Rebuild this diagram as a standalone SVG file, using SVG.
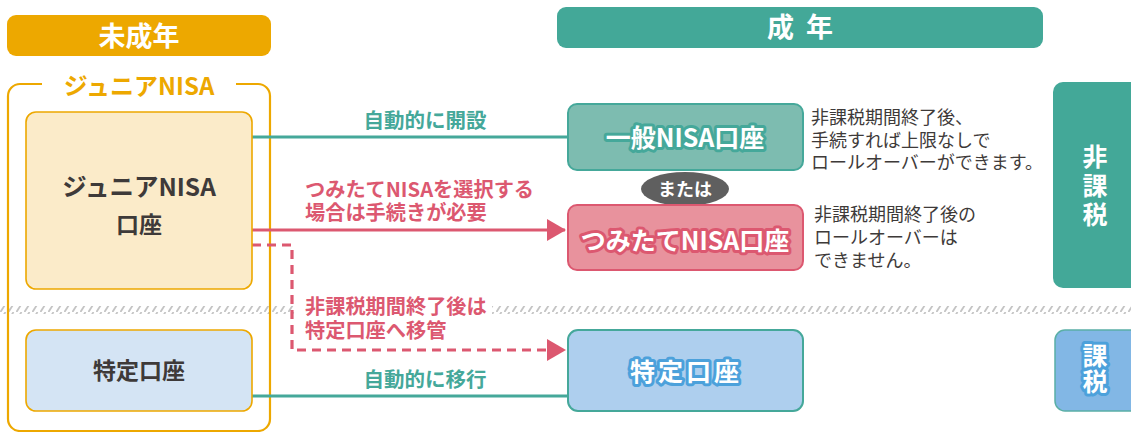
<svg xmlns="http://www.w3.org/2000/svg" width="1131" height="432" viewBox="0 0 1131 432">
<style>
text{font-family:"Noto Sans CJK JP","Noto Sans",sans-serif;font-weight:700}
.hdr{fill:#fff;font-size:27px;text-anchor:middle}
.dark{fill:#3E3A39;text-anchor:middle}
.note{fill:#3E3A39;font-size:18px;font-weight:400}
.teal{fill:#45A89A;font-size:20.5px;text-anchor:middle}
.pink{fill:#DC5870;font-size:20.2px}
.halo{fill:#fff;font-size:25px;text-anchor:middle;stroke-width:6px;stroke-linejoin:round;paint-order:stroke}
.vt{fill:#fff;font-size:25px;text-anchor:middle}
</style>
<defs>
<pattern id="hatch" width="8" height="8" patternUnits="userSpaceOnUse">
<line x1="0.5" y1="8" x2="5.5" y2="0" stroke="#C4C4C4" stroke-width="1.8"/>
</pattern>
<marker id="ap" markerUnits="userSpaceOnUse" markerWidth="20" markerHeight="24" refX="18" refY="12" orient="auto">
<path d="M0 1 L19 12 L0 23 Z" fill="#DC5870"/>
</marker>
</defs>
<rect x="0" y="0" width="1131" height="432" fill="#fff"/>
<rect id="separator" x="0" y="306" width="1131" height="8" fill="url(#hatch)"/>

<g id="hdr-minor"><rect x="7" y="15" width="264" height="41" rx="9" fill="#EDA800"/><text class="hdr" x="139" y="46">未成年</text></g>
<g id="hdr-adult"><rect x="557" y="7" width="486" height="41" rx="9" fill="#43A898"/><text class="hdr" x="806" y="37" font-size="25" letter-spacing="12">成年</text></g>

<g id="junior-frame">
<path d="M42 84 H20 A12 12 0 0 0 8 96 V419 A12 12 0 0 0 20 431 H258 A12 12 0 0 0 270 419 V96 A12 12 0 0 0 258 84 H236" fill="none" stroke="#EDA800" stroke-width="2.2"/>
<text x="139" y="95" fill="#EDA800" font-size="24" text-anchor="middle">ジュニアNISA</text>
</g>

<g id="connectors">
<rect x="296" y="296" width="196" height="50" fill="#fff"/>
<line x1="252" y1="137" x2="568" y2="137" stroke="#45A89A" stroke-width="3.2"/>
<line x1="252" y1="230" x2="565" y2="230" stroke="#DC5870" stroke-width="3.2" marker-end="url(#ap)"/>
<polyline points="252,245 292,245 292,350 565,350" fill="none" stroke="#DC5870" stroke-width="3.2" stroke-dasharray="9 6" marker-end="url(#ap)"/>
<line x1="252" y1="396" x2="568" y2="396" stroke="#45A89A" stroke-width="3.2"/>
<text class="teal" x="425" y="128">自動的に開設</text>
<text class="pink"><tspan x="305" y="197">つみたてNISAを選択する</tspan><tspan x="305" y="220">場合は手続きが必要</tspan></text>
<text class="pink"><tspan x="305" y="314">非課税期間終了後は</tspan><tspan x="305" y="338">特定口座へ移管</tspan></text>
<text class="teal" x="425" y="387">自動的に移行</text>
</g>

<g id="junior-account"><rect x="26" y="112" width="226" height="177" rx="10" fill="#FBEBC9" stroke="#EDA800" stroke-width="1.6"/>
<text class="dark"><tspan x="139" y="196" font-size="24.5">ジュニアNISA</tspan><tspan x="139" y="233" font-size="23">口座</tspan></text></g>

<g id="tokutei-left"><rect x="26" y="330" width="226" height="81" rx="10" fill="#D4E4F4" stroke="#EDA800" stroke-width="1.6"/>
<text class="dark" x="139" y="379" font-size="23">特定口座</text></g>

<g id="ippan"><rect x="568" y="104" width="235" height="66" rx="9" fill="#7DBCB0" stroke="#45A89A" stroke-width="2"/>
<text class="halo" x="685" y="147" stroke="#45A89A" font-size="26">一般NISA口座</text></g>

<g id="mataha"><ellipse cx="685" cy="189" rx="44" ry="17" fill="#5F5F5F"/>
<text x="685" y="196" fill="#fff" font-size="18" font-weight="500" text-anchor="middle">または</text></g>

<g id="tsumitate"><rect x="568" y="205" width="235" height="65" rx="9" fill="#E8929D" stroke="#DC5870" stroke-width="2"/>
<text class="halo" x="685" y="250" stroke="#DC5870">つみたてNISA口座</text></g>

<g id="tokutei-right"><rect x="568" y="330" width="235" height="81" rx="10" fill="#AECFEE" stroke="#45A89A" stroke-width="2"/>
<text class="halo" x="686" y="381" stroke="#4CA1DB" font-size="25" letter-spacing="3">特定口座</text></g>

<g id="note-ippan">
<text class="note"><tspan x="811" y="124">非課税期間終了後、</tspan><tspan x="811" y="147">手続すれば上限なしで</tspan><tspan x="811" y="169">ロールオーバーができます。</tspan></text>
</g>
<g id="note-tsumitate">
<text class="note"><tspan x="814" y="221">非課税期間終了後の</tspan><tspan x="814" y="244">ロールオーバーは</tspan><tspan x="814" y="267">できません。</tspan></text>
</g>

<g id="hikazei"><rect x="1053" y="82" width="90" height="206" rx="10" fill="#43A898"/>
<text class="vt"><tspan x="1095" y="166">非</tspan><tspan x="1095" y="195">課</tspan><tspan x="1095" y="224">税</tspan></text></g>

<g id="kazei"><rect x="1055" y="330" width="88" height="81" rx="10" fill="#82B7E5" stroke="#5AAFA6" stroke-width="1.5"/>
<text class="halo" font-size="21" stroke="#4CA1DB"><tspan x="1095" y="365">課</tspan><tspan x="1095" y="391">税</tspan></text></g>
</svg>
